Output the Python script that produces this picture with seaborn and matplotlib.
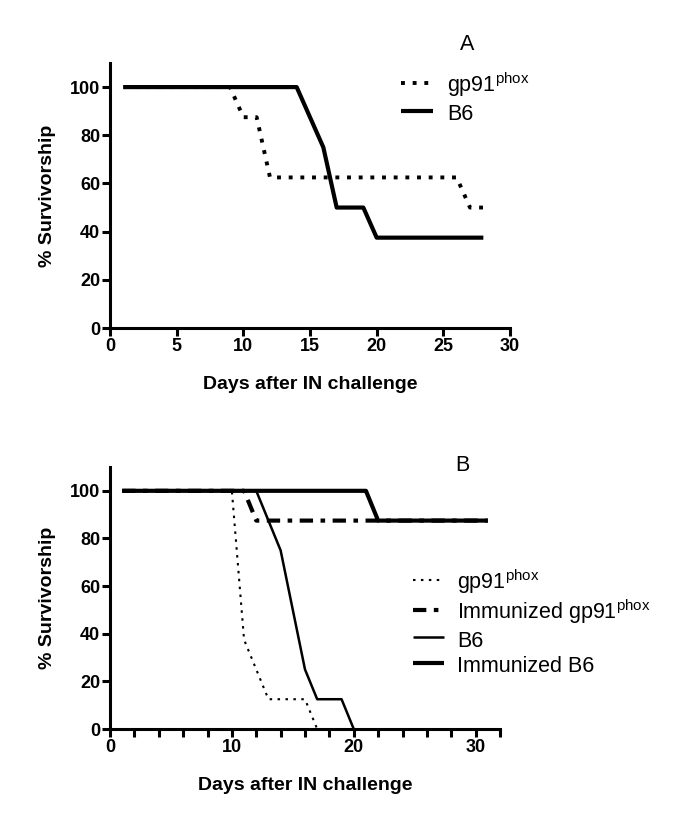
import pandas as pd
import matplotlib
matplotlib.use("Agg")
import matplotlib.pyplot as plt
import seaborn as sns

# Panel A: dias despues del reto y % de supervivencia
dias_a_gp91 = [1, 9, 10, 11, 12, 26, 27, 28]
surv_a_gp91 = [100, 100, 87.5, 87.5, 62.5, 62.5, 50, 50]
dias_a_b6 = [1, 14, 16, 17, 19, 20, 28]
surv_a_b6 = [100, 100, 75, 50, 50, 37.5, 37.5]

# Panel B
dias_b_gp91 = [1, 10, 11, 13, 16, 17]
surv_b_gp91 = [100, 100, 37.5, 12.5, 12.5, 0]
dias_b_imm_gp91 = [1, 11, 12, 31]
surv_b_imm_gp91 = [100, 100, 87.5, 87.5]
dias_b_b6 = [1, 12, 14, 15, 16, 17, 19, 20]
surv_b_b6 = [100, 100, 75, 50, 25, 12.5, 12.5, 0]
dias_b_imm_b6 = [1, 21, 22, 31]
surv_b_imm_b6 = [100, 100, 87.5, 87.5]

GP91 = r'gp91$^{\mathrm{phox}}$'
etiquetas_a = [GP91, 'B6']
etiquetas_b = [GP91, 'Immunized ' + GP91, 'B6', 'Immunized B6']


def armar_df(series, etiquetas):
    partes = []
    for (d, s), et in zip(series, etiquetas):
        partes.append(pd.DataFrame({'dia': d, 'surv': s, 'grupo': et}))
    return pd.concat(partes, ignore_index=True)


df_a = armar_df([(dias_a_gp91, surv_a_gp91), (dias_a_b6, surv_a_b6)], etiquetas_a)
df_b = armar_df([(dias_b_gp91, surv_b_gp91), (dias_b_imm_gp91, surv_b_imm_gp91),
                 (dias_b_b6, surv_b_b6), (dias_b_imm_b6, surv_b_imm_b6)], etiquetas_b)

# estilos de linea (ancho, patron)
estilos_a = {etiquetas_a[0]: (2.8, (0, (1, 2))),
             etiquetas_a[1]: (3.0, '-')}
estilos_b = {etiquetas_b[0]: (1.5, (0, (1.2, 2.6))),
             etiquetas_b[1]: (3.0, (0, (3.2, 1.8, 1.1, 1.8))),
             etiquetas_b[2]: (1.8, '-'),
             etiquetas_b[3]: (3.0, '-')}

sns.set_theme(style="ticks")
plt.rcParams['font.family'] = ['Liberation Sans', 'DejaVu Sans']
plt.rcParams['mathtext.fontset'] = 'custom'
plt.rcParams['mathtext.rm'] = 'Liberation Sans'
plt.rcParams['mathtext.it'] = 'Liberation Sans:italic'
plt.rcParams['mathtext.bf'] = 'Liberation Sans:bold'
for k in ('text.color', 'axes.labelcolor', 'xtick.color', 'ytick.color', 'axes.edgecolor'):
    plt.rcParams[k] = 'black'

fig = plt.figure(figsize=(6.85, 8.30), dpi=100)
W, H = 685, 830


def ejes(x0, y_top, x1, y_bot):
    return fig.add_axes([x0 / W, 1 - y_bot / H, (x1 - x0) / W, (y_bot - y_top) / H])


ax_a = ejes(110, 63, 510, 328)
ax_b = ejes(110, 467, 500, 729)


def dibujar(ax, df, estilos, etiquetas):
    for et in etiquetas:
        sub = df[df['grupo'] == et]
        lw, ls = estilos[et]
        sns.lineplot(x='dia', y='surv', data=sub, ax=ax, color='black',
                     linewidth=lw, label=et, sort=False, estimator=None)
        ax.lines[-1].set_linestyle(ls)
        ax.lines[-1].set_solid_capstyle('butt')
        ax.lines[-1].set_dash_capstyle('butt')


dibujar(ax_a, df_a, estilos_a, etiquetas_a)
dibujar(ax_b, df_b, estilos_b, etiquetas_b)

ax_a.set_xlim(0, 30)
ax_a.set_xticks(range(0, 31, 5))

ax_b.set_xlim(0, 32)
ticks_b = list(range(0, 33, 2))
ax_b.set_xticks(ticks_b)
ax_b.set_xticklabels([str(t) if t % 10 == 0 else '' for t in ticks_b])

for ax in (ax_a, ax_b):
    ax.set_ylim(0, 110)
    ax.set_yticks([0, 20, 40, 60, 80, 100])
    sns.despine(ax=ax)
    for sp in ('left', 'bottom'):
        ax.spines[sp].set_linewidth(2.2)
    ax.tick_params(axis='both', width=2.2, length=6, pad=1)
    for lab in ax.get_xticklabels() + ax.get_yticklabels():
        lab.set_fontweight('bold')
        lab.set_fontsize(13)
    ax.set_xlabel('Days after IN challenge', fontsize=14, fontweight='bold', labelpad=15)
    ax.set_ylabel('% Survivorship', fontsize=14, fontweight='bold', labelpad=10)

ax_a.legend(loc='upper left', bbox_to_anchor=(390 / W, 1 - 60 / H),
            bbox_transform=fig.transFigure, frameon=False, fontsize=15.5,
            handlelength=1.5, handletextpad=0.65, handleheight=1.3,
            labelspacing=0.1, borderpad=0)
ax_b.legend(loc='upper left', bbox_to_anchor=(402 / W, 1 - 557 / H),
            bbox_transform=fig.transFigure, frameon=False, fontsize=15.5,
            handlelength=1.45, handletextpad=0.6, handleheight=1.3,
            labelspacing=0.07, borderpad=0)

fig.text(467 / W, 1 - 45 / H, 'A', fontsize=15.5, ha='center', va='center')
fig.text(462 / W, 1 - 465 / H, 'B', fontsize=15.5, ha='center', va='center')

plt.savefig('out.png', dpi=100)
plt.close()
